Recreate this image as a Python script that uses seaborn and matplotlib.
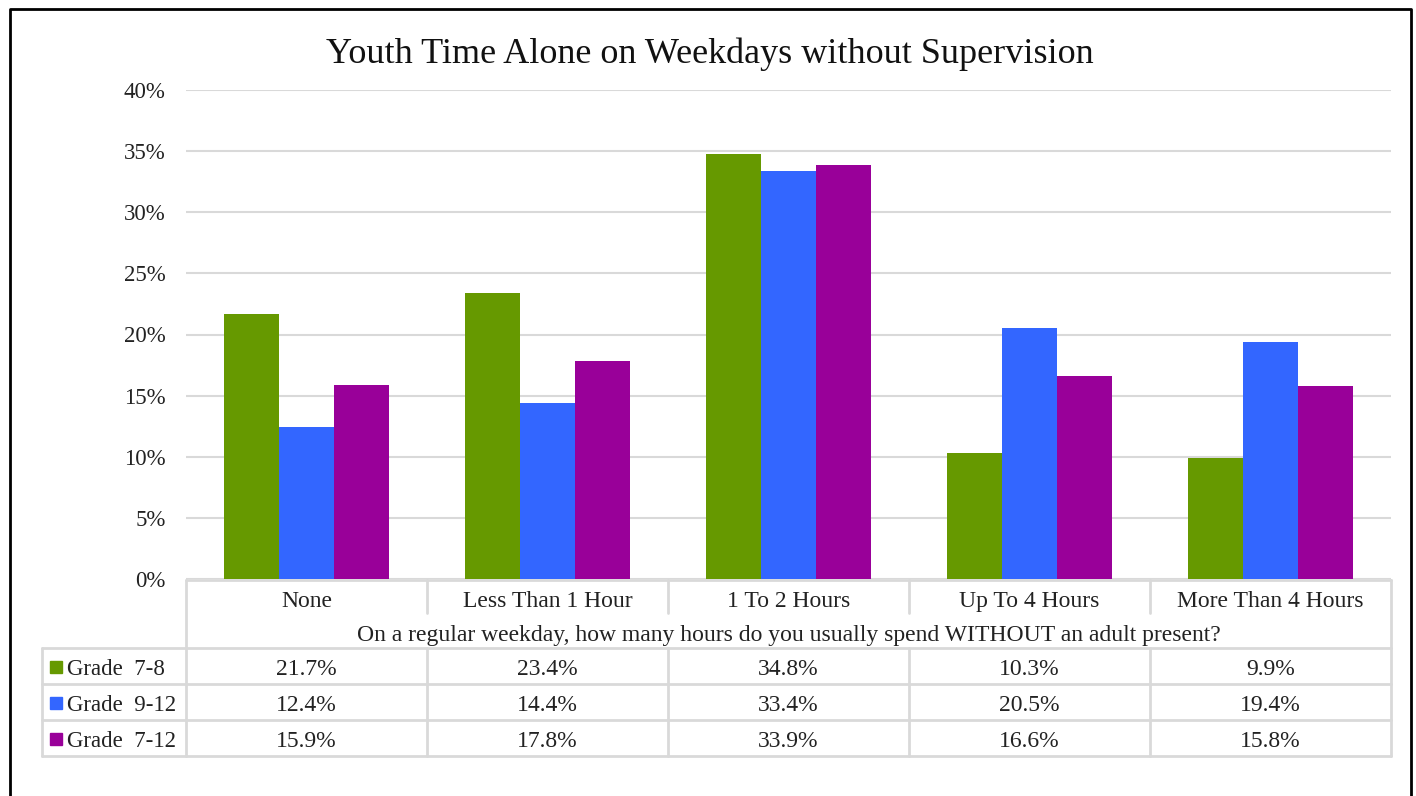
import pandas as pd
import matplotlib
matplotlib.use("Agg")
import matplotlib.pyplot as plt
import matplotlib.transforms as mtransforms
from matplotlib.lines import Line2D
from matplotlib.patches import Rectangle
from matplotlib.ticker import PercentFormatter, MultipleLocator
import seaborn as sns

# data
categories = ["None", "Less Than 1 Hour", "1 To 2 Hours", "Up To 4 Hours", "More Than 4 Hours"]
groups = ["Grade  7-8", "Grade  9-12", "Grade  7-12"]
grade_7_8 = [21.7, 23.4, 34.8, 10.3, 9.9]
grade_9_12 = [12.4, 14.4, 33.4, 20.5, 19.4]
grade_7_12 = [15.9, 17.8, 33.9, 16.6, 15.8]
colors = ["#669900", "#3366FF", "#990099"]
title = "Youth Time Alone on Weekdays without Supervision"
xlabel = "On a regular weekday, how many hours do you usually spend WITHOUT an adult present?"

series = [grade_7_8, grade_9_12, grade_7_12]
rows = []
for g, vals in zip(groups, series):
    for c, v in zip(categories, vals):
        rows.append({"category": c, "grade": g, "value": v})
df = pd.DataFrame(rows)

sns.set_style("white")
plt.rcParams["font.family"] = ["Liberation Serif", "DejaVu Serif"]

W, H = 1416, 796
fig = plt.figure(figsize=(W / 100, H / 100), dpi=100)


def fx(px):
    return px / W


def fy(py):
    return 1 - py / H


ax = fig.add_axes([fx(186), fy(579), fx(1391) - fx(186), fy(90) - fy(579)])
sns.barplot(data=df, x="category", y="value", hue="grade", palette=colors,
            saturation=1, width=0.685, gap=0, linewidth=0, ax=ax, legend=False)

ax.set_ylim(0, 40)
ax.set_xlim(-0.5, len(categories) - 0.5)
ax.yaxis.set_major_locator(MultipleLocator(5))
ax.yaxis.set_major_formatter(PercentFormatter(100, decimals=0))
ax.set_xticks([])
ax.set_xlabel("")
ax.set_ylabel("")
ax.tick_params(axis="y", length=0, pad=14.5, labelsize=16.5, labelcolor="#222222")
for lbl in ax.get_yticklabels():
    lbl.set_va("center_baseline")
ax.grid(axis="y", color="#d9d9d9", lw=1.5)
ax.set_axisbelow(True)
for s in ax.spines.values():
    s.set_visible(False)

fig.text(fx(710), fy(50), title, ha="center", va="center_baseline", fontsize=26, color="#111111")

# data table under the plot
line_kw = dict(color="#d9d9d9", lw=2)
trans = mtransforms.blended_transform_factory(ax.transData, fig.transFigure)
x0, x1 = -0.5, len(categories) - 0.5
row_y = [580, 615, 648, 684, 720, 756]
txt_kw = dict(ha="center", va="center_baseline", fontsize=17, color="#222222")

# top line (axis baseline)
ax.add_line(Line2D([x0, x1], [fy(580)] * 2, transform=trans, clip_on=False, **line_kw))
# header separators (category row only)
for i in range(1, len(categories)):
    ax.add_line(Line2D([i - 0.5] * 2, [fy(580), fy(613)], transform=trans, clip_on=False, **line_kw))
# outer vertical lines of the table
for xv in [x0, x1]:
    ax.add_line(Line2D([xv] * 2, [fy(580), fy(756)], transform=trans, clip_on=False, **line_kw))
# data row lines
for yv in row_y[2:]:
    fig.add_artist(Line2D([fx(42), fx(1391)], [fy(yv)] * 2, transform=fig.transFigure, **line_kw))
for i in range(1, len(categories)):
    ax.add_line(Line2D([i - 0.5] * 2, [fy(648), fy(756)], transform=trans, clip_on=False, **line_kw))
fig.add_artist(Line2D([fx(42)] * 2, [fy(648), fy(756)], transform=fig.transFigure, **line_kw))

for i, c in enumerate(categories):
    ax.text(i, fy(599), c, transform=trans, **txt_kw)
ax.text((x0 + x1) / 2, fy(633), xlabel, transform=trans, **txt_kw)

for r, (g, vals, col) in enumerate(zip(groups, series, colors)):
    yc = (row_y[2 + r] + row_y[3 + r]) / 2
    fig.add_artist(Rectangle((fx(50), fy(yc + 7)), fx(12), fy(yc - 5) - fy(yc + 7),
                             transform=fig.transFigure, color=col))
    fig.text(fx(67), fy(yc + 1), g, ha="left", va="center_baseline", fontsize=16.5, color="#222222")
    for i, v in enumerate(vals):
        ax.text(i, fy(yc + 1), f"{v:.1f}%", transform=trans, **txt_kw)

# outer chart border (left, top, right)
fig.add_artist(Line2D([fx(10), fx(10), fx(1411), fx(1411)], [0, fy(9), fy(9), 0],
                      transform=fig.transFigure, color="black", lw=2))

fig.savefig("out.png", dpi=100)
